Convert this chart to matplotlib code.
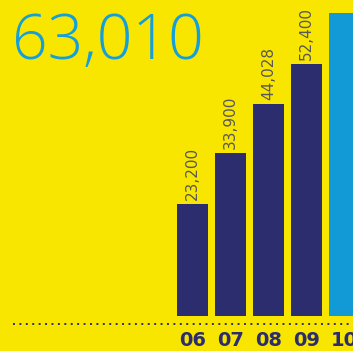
import matplotlib.pyplot as plt

years = ['06', '07', '08', '09', '10']
values = [23200, 33900, 44028, 52400, 63010]
bar_colors = ['#2b2d6e', '#2b2d6e', '#2b2d6e', '#2b2d6e', '#119ad6']

YELLOW = '#f9e600'
W, H, DPI = 353, 351, 100
PX_PER_UNIT = 0.00481  # bar height scale

fig = plt.figure(figsize=(W / DPI, H / DPI), dpi=DPI, facecolor=YELLOW)
# bar baseline sits 35px above the bottom edge
ax = fig.add_axes([0, 35 / H, 1, 1 - 35 / H])
ax.set_facecolor(YELLOW)

px_per_bar = 38.0
x0 = 192.5
ax.set_xlim(-x0 / px_per_bar, (W - x0) / px_per_bar)
ax.set_ylim(0, 316 / PX_PER_UNIT)

xs = list(range(len(years)))
ax.bar(xs, values, width=31 / 38, color=bar_colors, linewidth=0)

# rotated value labels above the navy bars
for x, v in zip(xs[:-1], values[:-1]):
    ax.annotate(f'{v:,}', (x, v), xytext=(0, 3), textcoords='offset points',
                rotation=90, ha='center', va='bottom', fontsize=11,
                color='#585858', family='DejaVu Sans')

# headline number
fig.text(12 / W, (H - 59) / H, f'{values[-1]:,}', fontsize=45, color='#129fdb',
         ha='left', va='baseline', family='Open Sans', fontweight='light')

for s in ax.spines.values():
    s.set_visible(False)

# dotted rule under the bars
rule = ax.axhline(-8 / PX_PER_UNIT, xmin=13 / W, xmax=1, color='#2b2d6e',
                  linewidth=1.4, clip_on=False, dash_capstyle='butt')
rule.set_dashes([1, 2.3])

ax.set_yticks([])
ax.set_xticks(xs)
ax.set_xticklabels(years, fontsize=14, fontweight='bold', color='#2b2d6e')
ax.tick_params(axis='x', length=0, pad=10.5)

fig.savefig('out.png', dpi=DPI, facecolor=YELLOW)
